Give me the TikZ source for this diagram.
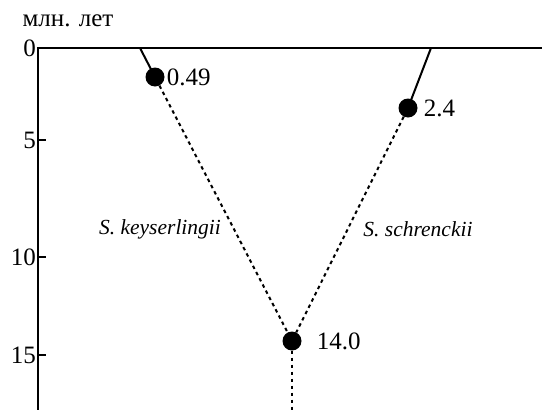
\documentclass[tikz,border=0pt]{standalone}
\usepackage{fontspec}
\setmainfont{Liberation Serif}
\usetikzlibrary{positioning}

\begin{document}
\begin{tikzpicture}[x=1pt,y=-1pt,
		dot/.style={circle,fill=black,inner sep=0pt,minimum size=19pt},
		num/.style={font=\fontsize{25}{28}\selectfont,inner sep=1pt},
		species/.style={font=\fontsize{21.5}{24}\selectfont\itshape},
		axis/.style={line width=2pt},
		branch/.style={line width=2pt},
		lineage/.style={line width=2pt,dash pattern=on 3.5pt off 3.5pt}]
	\useasboundingbox (0,0) rectangle (542,410);
	
	% оси и шкала
	\draw[axis] (38,410) -- (38,48) -- (542,48);
	\foreach \y/\t in {48/0,140/5,257/10,355/15} {
		\draw[axis] (38,\y) -- (46,\y);
		\node[num,anchor=east] (tick\t) at (37,\y) {\t};
	}
	\node[num] (unit) at (68,21) {млн. лет};
	
	% узлы дерева
	\coordinate (ktop) at (140,48);
	\coordinate (stop) at (431,48);
	\coordinate (rootend) at (292,410);
	\node[dot] (k) at (155,77) {};
	\node[dot] (s) at (408,108) {};
	\node[dot] (root) at (292,341) {};
	\node[num,right=1pt of k] (klab) {0.49};
	\node[num,right=5pt of s] (slab) {2.4};
	\node[num,right=14pt of root] (rootlab) {14.0};
	
	% ветви
	\draw[branch] (ktop) -- (k.center);
	\draw[branch] (stop) -- (s.center);
	\draw[lineage] (k) -- (root);
	\draw[lineage] (s) -- (root);
	\draw[lineage] (root) -- (rootend);
	
	% виды
	\node[species] (kname) at (160,229) {S. keyserlingii};
	\node[species] (sname) at (418,229) {S. schrenckii};
\end{tikzpicture}
\end{document}
